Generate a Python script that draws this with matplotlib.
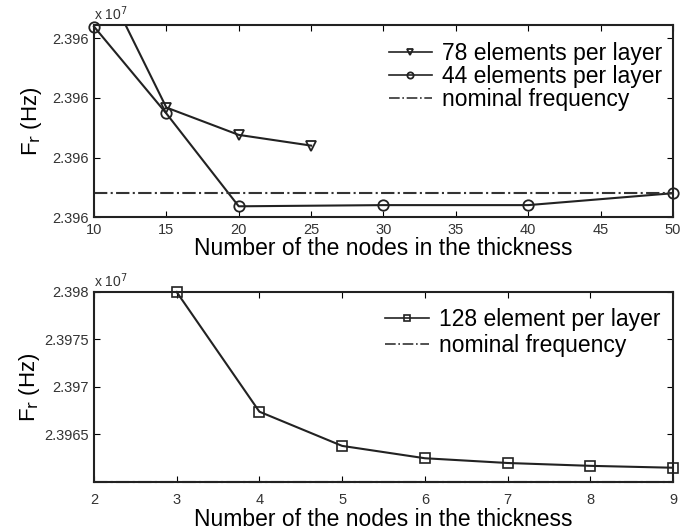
import matplotlib
matplotlib.use('Agg')
import matplotlib.pyplot as plt
from matplotlib.ticker import FuncFormatter

plt.rcParams['font.family'] = ['Liberation Sans', 'DejaVu Sans']
plt.rcParams['xtick.direction'] = 'in'
plt.rcParams['ytick.direction'] = 'in'

# upper panel: coarse meshes, nodes through thickness 10..50
nodes_a = [10, 15, 20, 25]
f_78 = [23960021.5, 23960009.2, 23960006.9, 23960006.0]
nodes_b = [10, 15, 20, 30, 40, 50]
f_44 = [23960016.0, 23960008.7, 23960000.9, 23960001.0, 23960001.0, 23960002.0]
nominal_top = 23960002.0
top_yticks = [23960000, 23960005, 23960010, 23960015]

# lower panel: fine mesh, nodes 3..9
nodes_c = [3, 4, 5, 6, 7, 8, 9]
f_128 = [2.3980e7, 2.39674e7, 2.39638e7, 2.39625e7, 2.39620e7, 2.39617e7, 2.39615e7]
nominal_bot = 2.3960e7
bot_yticks = [2.3965e7, 2.397e7, 2.3975e7, 2.398e7]

fig = plt.figure(figsize=(6.94, 5.31), dpi=100)
ax1 = fig.add_axes([0.1354, 0.5913, 0.8343, 0.3616])
ax2 = fig.add_axes([0.1354, 0.0923, 0.8343, 0.3578])

lw = 1.5
ink = '#222222'
# the 78-element curve starts above the plotted range, so it stays clipped
ax1.plot(nodes_a, f_78, color=ink, lw=lw, marker='v', ms=7.5,
         mfc='none', mec=ink, mew=1.3, label='78 elements per layer')
ax1.plot(nodes_b, f_44, color=ink, lw=lw, marker='o', ms=7.5,
         mfc='none', mec=ink, mew=1.3, label='44 elements per layer', clip_on=False)
ax1.axhline(nominal_top, color='#333333', lw=1.5, ls='-.', label='nominal frequency')
ax1.set_xlim(10, 50)
ax1.set_ylim(23960000, 23960016.13)
ax1.set_xticks(range(10, 51, 5))
ax1.set_yticks(top_yticks)
ax1.yaxis.set_major_formatter(FuncFormatter(lambda v, p: '%.3f' % (v / 1e7)))
ax1.set_xlabel('Number of the nodes in the thickness', fontsize=16.5, labelpad=0)
ax1.set_ylabel(r'F$_\mathrm{r}$ (Hz)', fontsize=16, labelpad=6)

ax2.plot(nodes_c, f_128, color=ink, lw=lw, marker='s', ms=6.5,
         mfc='none', mec=ink, mew=1.2, label='128 element per layer', clip_on=False)
ax2.axhline(nominal_bot, color='#333333', lw=1.5, ls='-.', label='nominal frequency',
            clip_on=False)
ax2.set_xlim(2, 9)
ax2.set_ylim(2.3960e7, 2.3980e7)
ax2.set_xticks(range(2, 10))
ax2.set_yticks(bot_yticks)
ax2.yaxis.set_major_formatter(FuncFormatter(lambda v, p: '%g' % round(v / 1e7, 4)))
ax2.set_xlabel('Number of the nodes in the thickness', fontsize=16.5, labelpad=1)
ax2.set_ylabel(r'F$_\mathrm{r}$ (Hz)', fontsize=16, labelpad=2)

for ax in (ax1, ax2):
    ax.tick_params(labelsize=10.5, labelcolor='#333333', top=True, right=True,
                   length=4, width=0.8)
    for s in ax.spines.values():
        s.set_linewidth(1.5)
        s.set_color(ink)
    ax.text(0.0, 1.01, 'x 10$^7$', transform=ax.transAxes, fontsize=10,
            va='bottom', ha='left', color='#333333')

leg1 = ax1.legend(loc='upper right', bbox_to_anchor=(1.012, 1.0), frameon=False,
                  fontsize=16.5, handlelength=1.9, handletextpad=0.45,
                  borderaxespad=0.45, labelspacing=0.0, borderpad=0.3)
leg2 = ax2.legend(loc='upper right', bbox_to_anchor=(1.006, 1.0), frameon=False,
                  fontsize=16.5, handlelength=1.9, handletextpad=0.45,
                  borderaxespad=0.4, labelspacing=0.15, borderpad=0.3)
for leg in (leg1, leg2):
    for line in leg.get_lines():
        line.set_markersize(4.5)
        line.set_linewidth(1.2)

ax1.tick_params(axis='x', pad=4)
ax2.tick_params(axis='x', pad=8)

fig.savefig('out.png', dpi=100)
